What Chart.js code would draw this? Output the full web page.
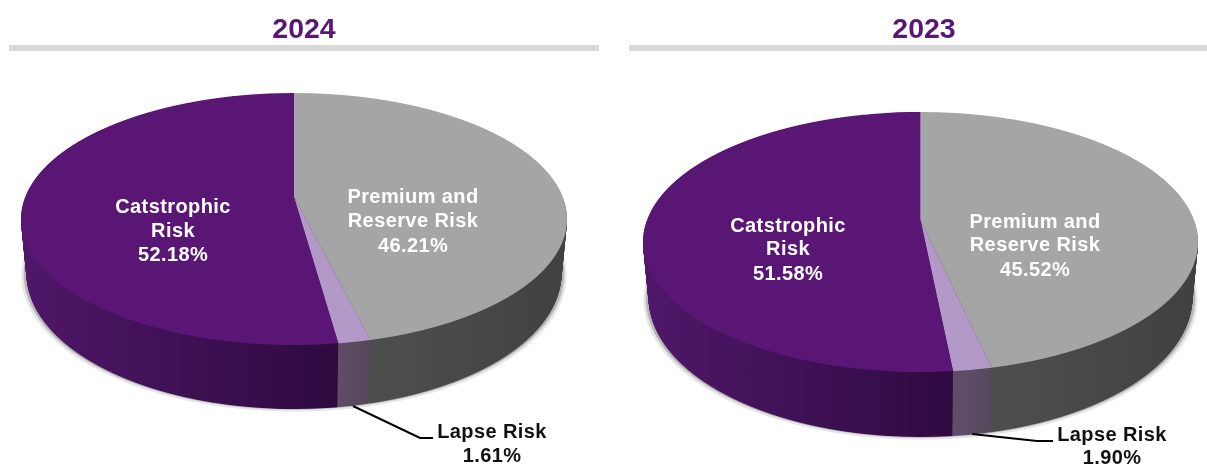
<!DOCTYPE html>
<html><head><meta charset="utf-8">
<style>html,body{margin:0;padding:0;background:#fff;width:1207px;height:464px;overflow:hidden;position:relative}
canvas{position:absolute}
.rule{position:absolute;top:45px;height:6px;background:#d9d9d9}</style>
<script src="https://cdn.jsdelivr.net/npm/chart.js@4"></script>
</head><body>
<div class="rule" style="left:9px;width:590px"></div>
<div class="rule" style="left:629px;width:578px"></div>
<canvas id="c2024" width="600" height="600" style="left:-6px;top:-103px;width:600px;height:600px"></canvas>
<canvas id="c2023" width="600" height="600" style="left:621px;top:-80px;width:600px;height:600px"></canvas>
<script>
const categories = ["Premium and Reserve Risk", "Lapse Risk", "Catstrophic Risk"];
const values2024 = [46.21, 1.61, 52.18];
const values2023 = [46.52, 1.90, 51.58];
const printed2024 = ["46.21%", "1.61%", "52.18%"];
const printed2023 = ["45.52%", "1.90%", "51.58%"];
const titles = ["2024", "2023"];
const faceColors = ["#a5a5a5", "#b399c8", "#5a1675"];
const sideStops = [
  [[76, "#4e4e4e"], [270, "#414141"]],
  [[44, "#5f4c69"], [76, "#554859"]],
  [[-280, "#50176a"], [44, "#2e0a3f"]]
];
const FONT = '"Liberation Sans", Arial, sans-serif';

function makePlugin(g) {
  return {
    id: "perspective",
    beforeDatasetsDraw(chart) {
      const ctx = chart.ctx;
      const arcs = chart.getDatasetMeta(0).data;
      const R = arcs[0].outerRadius, sx0 = arcs[0].x, sy0 = arcs[0].y;
      const b = (g.bottom - g.apex - (g.apex - g.top)) / (g.bottom - g.top);
      const C = (g.bottom - g.apex) * (1 - b);
      const A = g.rx * Math.sqrt(1 - b * b);
      const cxC = g.cx - g.left, apexC = g.apex - g.pageTop;
      const D = g.depth * (1 - b);

      function drawLayer(f, xs, minV, paint) {
        const yStart = Math.floor(g.top - 2 + D * f - g.pageTop);
        const yEnd = Math.ceil(g.bottom + g.depth * f + 3 - g.pageTop);
        for (let row = yStart; row < yEnd; row++) {
          const Y0 = row - apexC, Y1 = Y0 + 1;
          const v0 = (Y0 - D * f) / (C + b * Y0);
          const v1 = (Y1 - D * f) / (C + b * Y1);
          if (v1 < minV || v0 > 1.01 || v1 < -1.01) continue;
          const vm = (v0 + v1) / 2;
          const sx = A / (R * (1 - b * vm)) * xs;
          const sy = 1 / (R * (v1 - v0));
          ctx.save();
          ctx.beginPath();
          ctx.rect(0, row, chart.width, 1);
          ctx.clip();
          ctx.transform(sx, 0, 0, sy, cxC - sx0 * sx, row - (sy0 + v0 * R) * sy);
          arcs.forEach((el, i) => {
            const saved = el.options;
            el.options = Object.assign({}, saved, { backgroundColor: paint(i, sx) });
            el.draw(ctx);
            el.options = saved;
          });
          ctx.restore();
        }
      }

      const cache = new Map();
      function shade(i, sx) {
        const key = i + ":" + Math.round(sx * 400);
        if (cache.has(key)) return cache.get(key);
        const st = sideStops[i];
        const gr = ctx.createLinearGradient(sx0 + st[0][0] / sx, 0, sx0 + st[1][0] / sx, 0);
        gr.addColorStop(0, st[0][1]);
        gr.addColorStop(1, st[1][1]);
        cache.set(key, gr);
        return gr;
      }

      drawLayer(1.04, 0.998, 0, () => "rgba(90,90,90,0.15)");
      drawLayer(1.01, 0.99, 0, () => "rgba(60,60,60,0.28)");
      const layers = 60;
      for (let l = layers; l >= 1; l--) {
        const f = l / layers;
        drawLayer(f, 1 - 0.02 * f, 0, shade);
      }
      drawLayer(0, 1, -1.01, (i) => faceColors[i]);
      return false;
    },
    afterDraw(chart) {
      const ctx = chart.ctx;
      ctx.save();
      ctx.translate(-g.left, -g.pageTop);
      ctx.fillStyle = "#5a1675";
      ctx.font = "bold 28.5px " + FONT;
      ctx.textAlign = "center";
      ctx.textBaseline = "middle";
      ctx.fillText(g.title, g.titleX, 30);

      ctx.font = "bold 20px " + FONT;
      ctx.letterSpacing = "0.4px";
      ctx.fillStyle = "#ffffff";
      g.labels.forEach(l => {
        l.lines.forEach((t, i) => ctx.fillText(t, l.x, l.ys[i]));
      });
      ctx.strokeStyle = "#000";
      ctx.lineWidth = 2;
      ctx.beginPath();
      g.leader.forEach((p, i) => i ? ctx.lineTo(p[0], p[1]) : ctx.moveTo(p[0], p[1]));
      ctx.stroke();
      ctx.fillStyle = "#111";
      g.lapse.lines.forEach((t, i) => ctx.fillText(t, g.lapse.x, g.lapse.ys[i]));
      ctx.restore();
    }
  };
}

function build(id, values, g) {
  new Chart(document.getElementById(id), {
    type: "pie",
    data: { labels: categories, datasets: [{ data: values, backgroundColor: faceColors, borderWidth: 0 }] },
    options: {
      responsive: false, animation: false, devicePixelRatio: 1,
      rotation: 0, layout: { padding: 20 },
      plugins: { legend: { display: false }, tooltip: { enabled: false } }
    },
    plugins: [makePlugin(g)]
  });
}

build("c2024", values2024, {
  left: -6, pageTop: -103, cx: 294, apex: 197, top: 93, bottom: 345, rx: 273, depth: 64,
  title: titles[0], titleX: 304,
  labels: [
    { x: 173, ys: [207, 231, 255], lines: ["Catstrophic", "Risk", printed2024[2]] },
    { x: 413, ys: [197, 221, 246], lines: ["Premium and", "Reserve Risk", printed2024[0]] }
  ],
  lapse: { x: 492, ys: [432, 456], lines: ["Lapse Risk", printed2024[1]] },
  leader: [[353, 406], [420, 438], [433, 438]]
});
build("c2023", values2023, {
  left: 621, pageTop: -80, cx: 920.5, apex: 220, top: 112, bottom: 372, rx: 277.5, depth: 65,
  title: titles[1], titleX: 924,
  labels: [
    { x: 788, ys: [226, 249, 274], lines: ["Catstrophic", "Risk", printed2023[2]] },
    { x: 1035, ys: [222, 245, 270], lines: ["Premium and", "Reserve Risk", printed2023[0]] }
  ],
  lapse: { x: 1112, ys: [435, 458], lines: ["Lapse Risk", printed2023[1]] },
  leader: [[972, 434], [1037, 441], [1053, 441]]
});
</script>
</body></html>
